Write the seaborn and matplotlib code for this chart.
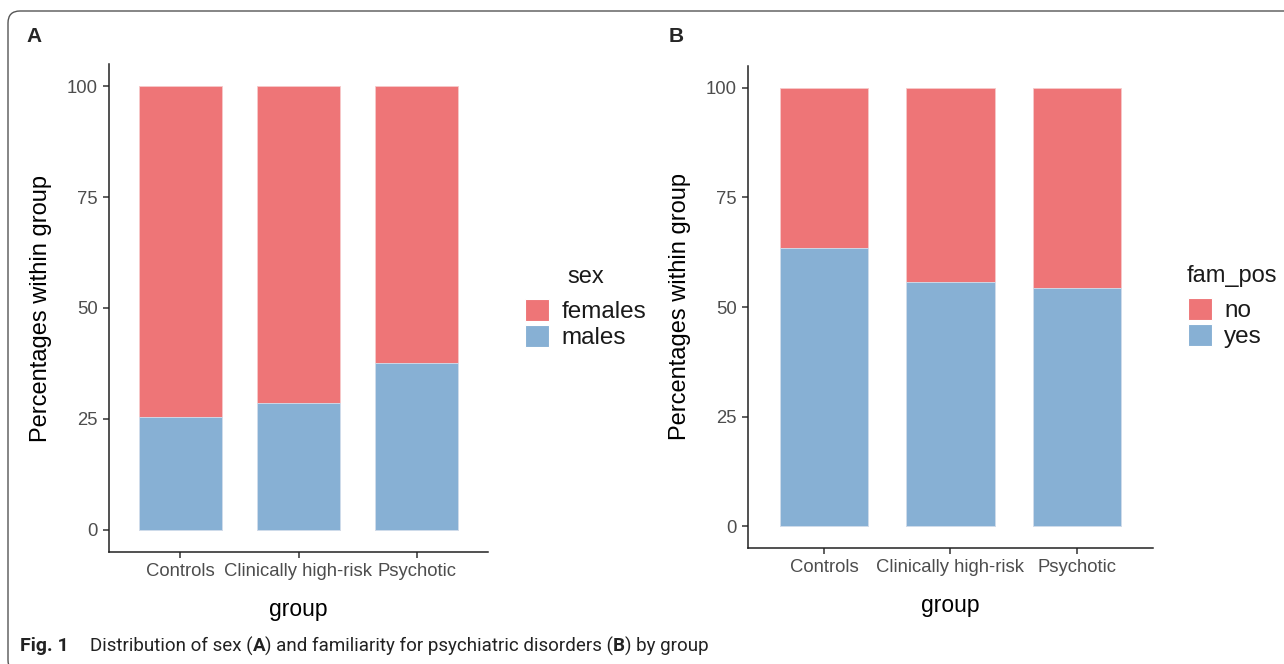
import matplotlib
matplotlib.use("Agg")
import matplotlib.pyplot as plt
from matplotlib.patches import Patch, FancyBboxPatch
import numpy as np
import pandas as pd
import seaborn as sns

# ---------------------------------------------------------------------------
# Data (percentages within group)
# ---------------------------------------------------------------------------
groups = ["Controls", "Clinically high-risk", "Psychotic"]

sex_levels = ["females", "males"]
males_pct = [25.4, 28.5, 37.6]
females_pct = [74.6, 71.5, 62.4]

fam_levels = ["no", "yes"]
fam_yes_pct = [63.5, 55.7, 54.3]
fam_no_pct = [36.5, 44.3, 45.7]

y_ticks = [0, 25, 50, 75, 100]

RED = "#EE7577"
BLUE = "#87B0D4"
FONT = ["Liberation Sans", "DejaVu Sans"]

sns.set_theme(style="ticks")
plt.rcParams["font.family"] = FONT

W, H = 1284, 664
fig = plt.figure(figsize=(W / 100, H / 100), dpi=100)


def px_axes(left, right, bottom, top):
    return fig.add_axes([left / W, 1 - bottom / H, (right - left) / W, (bottom - top) / H])


def stacked_panel(ax, lower, upper, levels, legend_title, key_xy, title_xy, title_ha):
    df = pd.DataFrame({
        "group": groups,
        "lower": lower,
        "total": np.array(lower) + np.array(upper),
    })
    # upper segment drawn as full stack, lower segment overlaid
    sns.barplot(data=df, x="group", y="total", order=groups, color=RED,
                width=0.7, errorbar=None, saturation=1, ax=ax,
                edgecolor="#F6C9CA", linewidth=0.6)
    sns.barplot(data=df, x="group", y="lower", order=groups, color=BLUE,
                width=0.7, errorbar=None, saturation=1, ax=ax,
                edgecolor="#D2E2F0", linewidth=0.6)
    ax.set_xlim(-0.6, 2.6)
    ax.set_ylim(-5, 105)
    ax.set_yticks(y_ticks)
    ax.set_yticklabels([str(t) for t in y_ticks])
    ax.set_xlabel("group", fontsize=16.5, color="black", labelpad=13)
    ax.set_ylabel("Percentages within group", fontsize=17, color="black", labelpad=11)
    ax.tick_params(axis="both", labelsize=13.3, labelcolor="#4D4D4D",
                   color="#333333", length=4, width=1.1, pad=4)
    for side in ("top", "right"):
        ax.spines[side].set_visible(False)
    for side in ("left", "bottom"):
        ax.spines[side].set_color("#222222")
        ax.spines[side].set_linewidth(1.1)
    ax.set_facecolor("white")

    handles = [Patch(facecolor=RED, edgecolor="white", linewidth=0.8),
               Patch(facecolor=BLUE, edgecolor="white", linewidth=0.8)]
    leg = ax.legend(handles, levels, loc="upper left",
                    bbox_to_anchor=(key_xy[0] / W, 1 - key_xy[1] / H),
                    bbox_transform=fig.transFigure,
                    frameon=False, fontsize=17.5,
                    handlelength=1.0, handleheight=1.0, handletextpad=0.5,
                    labelspacing=0.07, borderpad=0, borderaxespad=0)
    for t in leg.get_texts():
        t.set_color("#1A1A1A")
    fig.text(title_xy[0] / W, 1 - title_xy[1] / H, legend_title, fontsize=17,
             color="#1A1A1A", ha=title_ha, va="center")


ax_a = px_axes(109, 488, 552, 64)
stacked_panel(ax_a, males_pct, females_pct, sex_levels, "sex",
              (525, 299), (586, 277), "center")

ax_b = px_axes(748, 1153, 548, 66)
stacked_panel(ax_b, fam_yes_pct, fam_no_pct, fam_levels, "fam_pos",
              (1188, 298), (1187, 276), "left")

fig.text(34.5 / W, 1 - 37 / H, "A", fontsize=15, weight="bold", va="center", ha="center")
fig.text(676 / W, 1 - 37 / H, "B", fontsize=15, weight="bold", va="center", ha="center")

# rounded figure frame (runs off the right and bottom edges)
frame = FancyBboxPatch((8 / 100, (H - 672) / 100), (1300 - 8) / 100, (672 - 11) / 100,
                       boxstyle="round,pad=0,rounding_size=0.12",
                       transform=fig.dpi_scale_trans, facecolor="none",
                       edgecolor="#555555", linewidth=1.0, zorder=0)
fig.patches.append(frame)

# caption with bold fragments, fitted to the reference width
cap_font = ["Roboto", "Liberation Sans", "DejaVu Sans"]
renderer = fig.canvas.get_renderer()
fig.text(20 / W, 1 - 646 / H, "Fig. 1", fontsize=14, weight="bold",
         family=cap_font, va="center", ha="left", color="#222222")

runs = [("Distribution of sex (", "normal"), ("A", "bold"),
        (") and familiarity for psychiatric disorders (", "normal"), ("B", "bold"),
        (") by group", "normal")]


def draw_runs(size, x0, target=None):
    x = x0
    items = []
    for text, weight in runs:
        t = fig.text(x / W, 1 - 646 / H, text, fontsize=size, weight=weight,
                     family=cap_font, va="center", ha="left", color="#222222")
        items.append(t)
        x += t.get_window_extent(renderer).width
    return x - x0, items


width, items = draw_runs(14, 90)
for t in items:
    t.remove()
draw_runs(14 * 622 / width, 90)

fig.savefig("out.png", dpi=100, facecolor="white")
